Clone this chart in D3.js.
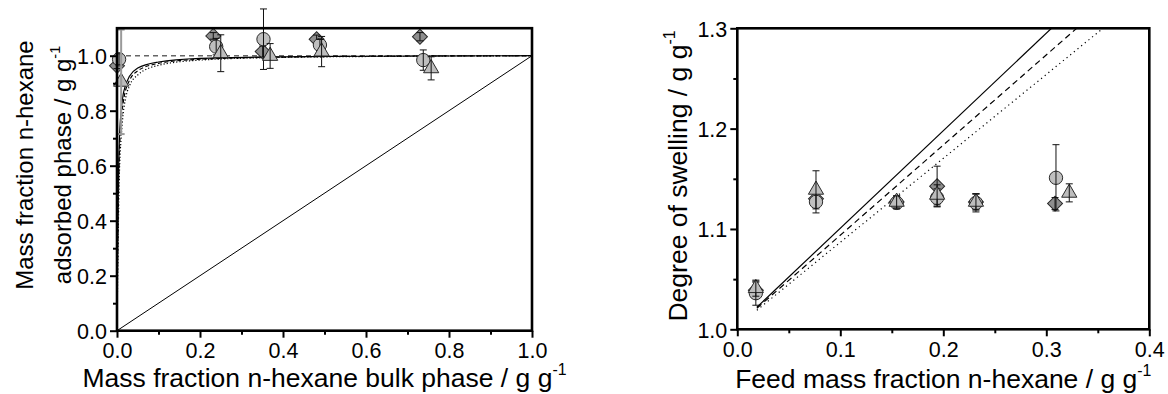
<!DOCTYPE html>
<html><head><meta charset="utf-8">
<script src="https://cdn.jsdelivr.net/npm/d3@7"></script>
<style>
body{margin:0;background:#fff}
svg{display:block;font-family:"Liberation Sans",Arial,Helvetica,sans-serif}
</style></head><body>
<svg id="chart" width="1168" height="394"></svg>
<script>
// ---- Left panel: adsorbed-phase vs bulk-phase mass fraction of n-hexane ----
const leftCircleX   = [0.005, 0.239, 0.353, 0.489, 0.738];
const leftCircleY   = [0.987, 1.033, 1.060, 1.039, 0.984];
const leftCircleErr = [0.020, 0.030, 0.110, 0.020, 0.037];

const leftDiamondX   = [0.000, 0.232, 0.351, 0.481, 0.730];
const leftDiamondY   = [0.963, 1.072, 1.015, 1.060, 1.069];
const leftDiamondErr = [0.010, 0.012, 0.020, 0.015, 0.015];

const leftTriangleX   = [0.010, 0.250, 0.369, 0.493, 0.757];
const leftTriangleY   = [0.905, 1.009, 0.999, 1.015, 0.954];
const leftTriangleErr = [0.190, 0.067, 0.045, 0.055, 0.042];

// model curves (bulk fraction, adsorbed fraction)
const leftModelSolid  = [[0,0],[0.002,0.40],[0.005,0.66],[0.01,0.80],[0.015,0.86],[0.02,0.89],[0.03,0.925],[0.05,0.955],[0.1,0.977],[0.2,0.99],[0.4,0.996],[0.6,0.998],[1,1]];
const leftModelDashed = [[0,0],[0.002,0.33],[0.005,0.60],[0.01,0.76],[0.015,0.83],[0.02,0.87],[0.03,0.91],[0.05,0.945],[0.1,0.972],[0.2,0.987],[0.4,0.995],[0.6,0.998],[1,1]];
const leftModelDotted = [[0,0],[0.003,0.35],[0.006,0.58],[0.01,0.70],[0.015,0.79],[0.02,0.84],[0.03,0.89],[0.05,0.93],[0.1,0.965],[0.2,0.984],[0.4,0.994],[0.6,0.997],[1,1]];
const leftDiagonal    = [[0,0],[1,1]];
const leftPureLine    = [[0,1],[1,1]];

const leftXTicks = [0.0, 0.2, 0.4, 0.6, 0.8, 1.0];
const leftYTicks = [0.0, 0.2, 0.4, 0.6, 0.8, 1.0];
const leftXMinor = [0.1, 0.3, 0.5, 0.7, 0.9];
const leftYMinor = [0.1, 0.3, 0.5, 0.7, 0.9];

// ---- Right panel: degree of swelling vs feed mass fraction ----
const rightCircleX   = [0.018, 0.0764, 0.1547, 0.194, 0.2317, 0.3094];
const rightCircleY   = [1.036, 1.127, 1.126, 1.131, 1.126, 1.151];
const rightCircleErr = [0.012, 0.011, 0.006, 0.009, 0.009, 0.033];

const rightDiamondX   = [0.018, 0.0764, 0.1547, 0.194, 0.2317, 0.3085];
const rightDiamondY   = [1.039, 1.130, 1.127, 1.1426, 1.127, 1.1253];
const rightDiamondErr = [0.008, 0.008, 0.006, 0.020, 0.008, 0.006];

const rightTriangleX   = [0.018, 0.0764, 0.1547, 0.194, 0.2317, 0.3223];
const rightTriangleY   = [1.041, 1.139, 1.127, 1.134, 1.127, 1.136];
const rightTriangleErr = [0.008, 0.019, 0.006, 0.010, 0.008, 0.009];

const rightModelSolid  = [[0.019,1.022],[0.305,1.30]];
const rightModelDashed = [[0.019,1.021],[0.3295,1.30]];
const rightModelDotted = [[0.019,1.019],[0.355,1.30]];

const rightXTicks = [0.0, 0.1, 0.2, 0.3, 0.4];
const rightYTicks = [1.0, 1.1, 1.2, 1.3];
const rightXMinor = [0.05, 0.15, 0.25, 0.35];
const rightYMinor = [1.05, 1.15, 1.25];

const svg = d3.select("#chart");

const styles = {
  circle:   {fill: "#bfbfbf", type: d3.symbolCircle,   size: 140, rot: 0},
  diamond:  {fill: "#8e8e8e", type: d3.symbolSquare,   size: 112, rot: 45},
  triangle: {fill: "#bdbdbd", type: d3.symbolTriangle, size: 100, rot: 0}
};

function zip(xs, ys, es) { return xs.map((x, i) => ({x, y: ys[i], e: es[i]})); }

function panel(cfg) {
  const g = svg.append("g");
  const x = d3.scaleLinear().domain(cfg.xDomain).range([cfg.left, cfg.right]);
  const y = d3.scaleLinear().domain(cfg.yDomain).range([cfg.bottom, cfg.top]);
  const clipId = "clip" + cfg.id;
  svg.append("clipPath").attr("id", clipId).append("rect")
    .attr("x", cfg.left).attr("y", cfg.top)
    .attr("width", cfg.right - cfg.left).attr("height", cfg.bottom - cfg.top);

  // model lines
  const plotG = g.append("g").attr("clip-path", `url(#${clipId})`);
  cfg.lines.forEach(l => {
    plotG.append("path").datum(l.data)
      .attr("fill", "none").attr("stroke", l.color || "#000")
      .attr("stroke-width", l.width || 1)
      .attr("stroke-dasharray", l.dash || null)
      .attr("d", d3.line().x(d => x(d[0])).y(d => y(d[1])).curve(l.curve || d3.curveLinear));
  });

  // data series: markers, then error bars on top
  cfg.series.forEach(s => {
    const st = styles[s.kind];
    const sg = g.append("g");
    sg.selectAll("path.m").data(s.data).join("path").attr("class", "m")
      .attr("d", d3.symbol().type(st.type).size(st.size))
      .attr("transform", d => `translate(${x(d.x)},${y(d.y)}) rotate(${st.rot})`)
      .attr("fill", st.fill).attr("stroke", "#2a2a2a").attr("stroke-width", 1);
    const eg = sg.selectAll("g.e").data(s.data).join("g").attr("class", "e")
      .attr("stroke", (d, i) => (s.errColor && s.errColor[i]) || "#111")
      .attr("stroke-width", (d, i) => (s.errWidth && s.errWidth[i]) || 1);
    eg.append("line").attr("x1", d => x(d.x)).attr("x2", d => x(d.x))
      .attr("y1", d => y(d.y - d.e)).attr("y2", d => y(d.y + d.e));
    eg.append("line").attr("x1", d => x(d.x) - 3.5).attr("x2", d => x(d.x) + 3.5)
      .attr("y1", d => y(d.y + d.e)).attr("y2", d => y(d.y + d.e));
    eg.append("line").attr("x1", d => x(d.x) - 3.5).attr("x2", d => x(d.x) + 3.5)
      .attr("y1", d => y(d.y - d.e)).attr("y2", d => y(d.y - d.e));
  });

  // axes
  const fmt = d3.format(".1f");
  const xAxis = g.append("g").attr("transform", `translate(0,${cfg.bottom})`)
    .call(d3.axisBottom(x).tickValues(cfg.xTicks).tickFormat(fmt).tickSize(7).tickPadding(5));
  const xMinor = g.append("g").attr("transform", `translate(0,${cfg.bottom})`)
    .call(d3.axisBottom(x).tickValues(cfg.xMinor).tickFormat("").tickSize(4));
  const yAxis = g.append("g").attr("transform", `translate(${cfg.left},0)`)
    .call(d3.axisLeft(y).tickValues(cfg.yTicks).tickFormat(fmt).tickSize(7).tickPadding(3));
  const yMinor = g.append("g").attr("transform", `translate(${cfg.left},0)`)
    .call(d3.axisLeft(y).tickValues(cfg.yMinor).tickFormat("").tickSize(4));
  [xAxis, xMinor, yAxis, yMinor].forEach(a => {
    a.select(".domain").remove();
    a.selectAll("line").attr("stroke", "#000").attr("stroke-width", 2);
    a.selectAll("text").attr("fill", "#000").attr("font-size", cfg.tickFont)
      .attr("font-family", "Liberation Sans, Arial, sans-serif");
  });
  yAxis.selectAll("text").attr("dy", "0.36em");

  // frame
  g.append("rect").attr("x", cfg.left).attr("y", cfg.top)
    .attr("width", cfg.right - cfg.left).attr("height", cfg.bottom - cfg.top)
    .attr("fill", "none").attr("stroke", "#000").attr("stroke-width", 2.6);

  // axis titles
  const xf = cfg.xTitleFont;
  const xt = g.append("text").attr("x", (cfg.left + cfg.right) / 2).attr("y", cfg.xTitleY)
    .attr("text-anchor", "middle").attr("font-size", xf);
  xt.append("tspan").text(cfg.xTitle);
  xt.append("tspan").attr("font-size", xf * 0.6).attr("dy", -xf * 0.45).text("-1");

  const yf = cfg.yTitleFont;
  cfg.yTitle.forEach((line, i) => {
    const t = g.append("text")
      .attr("transform", `translate(${cfg.yTitleX[i]},${cfg.yTitleCenter}) rotate(-90)`)
      .attr("text-anchor", "middle").attr("font-size", yf);
    t.append("tspan").text(line.text);
    if (line.sup) t.append("tspan").attr("font-size", yf * 0.6).attr("dy", -yf * 0.45).text("-1");
  });
}

panel({
  id: "L", left: 117, right: 532, top: 28.2, bottom: 330.7,
  xDomain: [0, 1], yDomain: [0, 1.1],
  xTicks: leftXTicks, yTicks: leftYTicks, xMinor: leftXMinor, yMinor: leftYMinor,
  tickFont: 21.5, xTitleFont: 26.5, yTitleFont: 24,
  xTitle: "Mass fraction n-hexane bulk phase / g g", xTitleY: 387,
  yTitle: [{text: "Mass fraction n-hexane"}, {text: "adsorbed phase / g g", sup: true}],
  yTitleX: [33, 71], yTitleCenter: 165,
  lines: [
    {data: leftDiagonal, width: 1},
    {data: leftPureLine, color: "#666", width: 1.5, dash: "5,4"},
    {data: leftModelDotted, width: 1.2, dash: "1.2,2", curve: d3.curveMonotoneX},
    {data: leftModelDashed, width: 1.2, dash: "4,2.5", curve: d3.curveMonotoneX},
    {data: leftModelSolid, width: 1.2, curve: d3.curveMonotoneX}
  ],
  series: [
    {kind: "diamond", data: zip(leftDiamondX, leftDiamondY, leftDiamondErr)},
    {kind: "circle", data: zip(leftCircleX, leftCircleY, leftCircleErr)},
    {kind: "triangle", data: zip(leftTriangleX, leftTriangleY, leftTriangleErr),
     errColor: ["#9a9a9a"], errWidth: [2]}
  ]
});

panel({
  id: "R", left: 737.3, right: 1149.3, top: 28.3, bottom: 329.3,
  xDomain: [0, 0.4], yDomain: [1.0, 1.3],
  xTicks: rightXTicks, yTicks: rightYTicks, xMinor: rightXMinor, yMinor: rightYMinor,
  tickFont: 21.5, xTitleFont: 26.5, yTitleFont: 26.5,
  xTitle: "Feed mass fraction n-hexane / g g", xTitleY: 388,
  yTitle: [{text: "Degree of swelling / g g", sup: true}],
  yTitleX: [687], yTitleCenter: 176,
  lines: [
    {data: rightModelDotted, width: 1.2, dash: "1.2,3.5"},
    {data: rightModelDashed, width: 1.2, dash: "6,4"},
    {data: rightModelSolid, width: 1.2}
  ],
  series: [
    {kind: "diamond", data: zip(rightDiamondX, rightDiamondY, rightDiamondErr)},
    {kind: "circle", data: zip(rightCircleX, rightCircleY, rightCircleErr)},
    {kind: "triangle", data: zip(rightTriangleX, rightTriangleY, rightTriangleErr)}
  ]
});
</script>
</body></html>
